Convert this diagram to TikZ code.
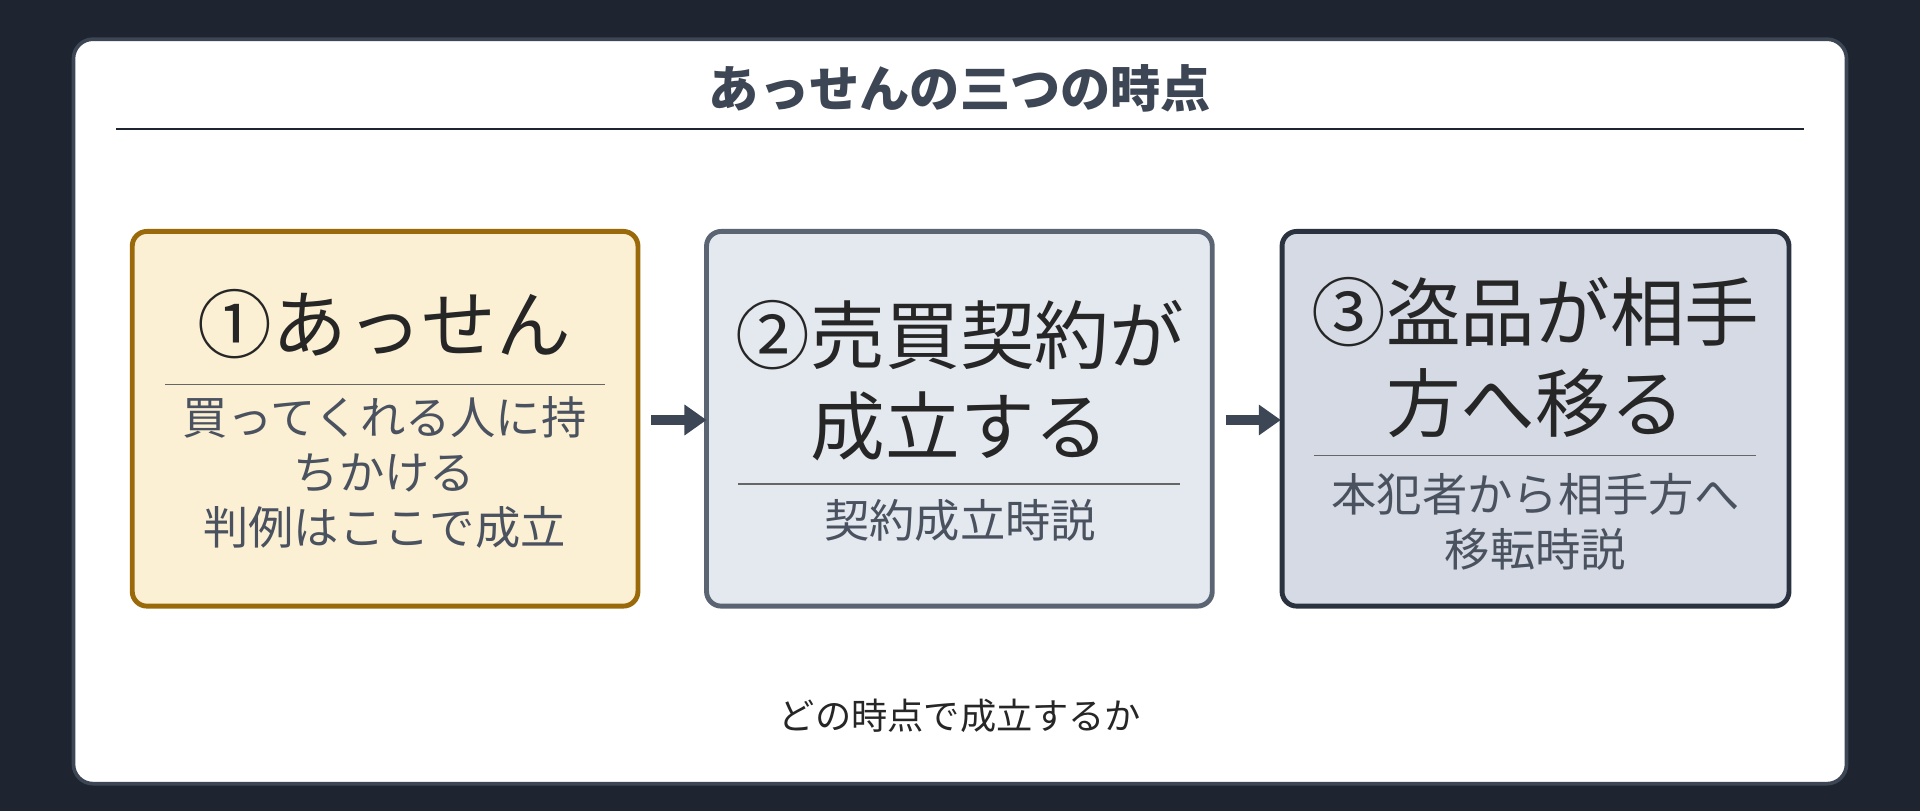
\documentclass[tikz,border=0pt]{standalone}
\usepackage{fontspec}
\setmainfont{Noto Sans CJK JP}
\usetikzlibrary{arrows.meta}
\definecolor{bg}{HTML}{1E2530}
\definecolor{ink}{HTML}{3D4654}
\definecolor{sub}{HTML}{4A5260}
\definecolor{f1}{HTML}{FCF0D4}\definecolor{d1}{HTML}{9A6A0A}
\definecolor{f2}{HTML}{E4E8EF}\definecolor{d2}{HTML}{5A6472}
\definecolor{f3}{HTML}{D5DAE4}\definecolor{d3}{HTML}{2A3240}
\tikzset{
  box/.style={draw, line width=2pt, rounded corners=6pt},
  big/.style={font=\fontsize{30.5}{37}\selectfont, text=black!85, align=center},
  small/.style={font=\fontsize{18.5}{22.5}\selectfont, text=sub, align=center},
  sep/.style={draw=gray!80!black, line width=0.7pt},
  arr/.style={-{Triangle[length=9pt,width=12pt]}, line width=4pt, draw=ink}
}
\begin{document}
\begin{tikzpicture}[x=0.5pt,y=-0.5pt]
\useasboundingbox (0,0) rectangle (1568,662);
\fill[bg] (0,0) rectangle (1568,662);
\draw[fill=white, draw=ink, line width=1.5pt, rounded corners=8pt] (60,32) rectangle (1508,640);
\node[font=\fontsize{20.5}{24}\selectfont\bfseries, text=ink] (title) at (784,72) {あっせんの三つの時点};
\draw[line width=0.8pt, draw=bg] (95,105) -- (1473,105);
% box 1
\draw[box, fill=f1, draw=d1] (108,189) rectangle (521,495);
\node[big] (t1) at (314,265) {①あっせん};
\draw[sep] (135,314) -- (494,314);
\node[small] (s1) at (314,386) {買ってくれる人に持\\ちかける\\判例はここで成立};
% box 2
\draw[box, fill=f2, draw=d2] (577,189) rectangle (990,495);
\node[big] (t2) at (784,311) {②売買契約が\\成立する};
\draw[sep] (603,395) -- (964,395);
\node[small] (s2) at (784,425) {契約成立時説};
% box 3
\draw[box, fill=f3, draw=d3] (1047,189) rectangle (1461,495);
\node[big] (t3) at (1254,292) {③盗品が相手\\方へ移る};
\draw[sep] (1073,372) -- (1434,372);
\node[small] (s3) at (1254,426) {本犯者から相手方へ\\移転時説};
% arrows
\coordinate (a1s) at (532,343); \coordinate (a1e) at (577,343);
\coordinate (a2s) at (1001,343); \coordinate (a2e) at (1046,343);
\draw[arr] (a1s) -- (a1e);
\draw[arr] (a2s) -- (a2e);
\node[font=\fontsize{14.8}{18}\selectfont, text=black!85] (cap) at (784,585) {どの時点で成立するか};
\end{tikzpicture}
\end{document}
